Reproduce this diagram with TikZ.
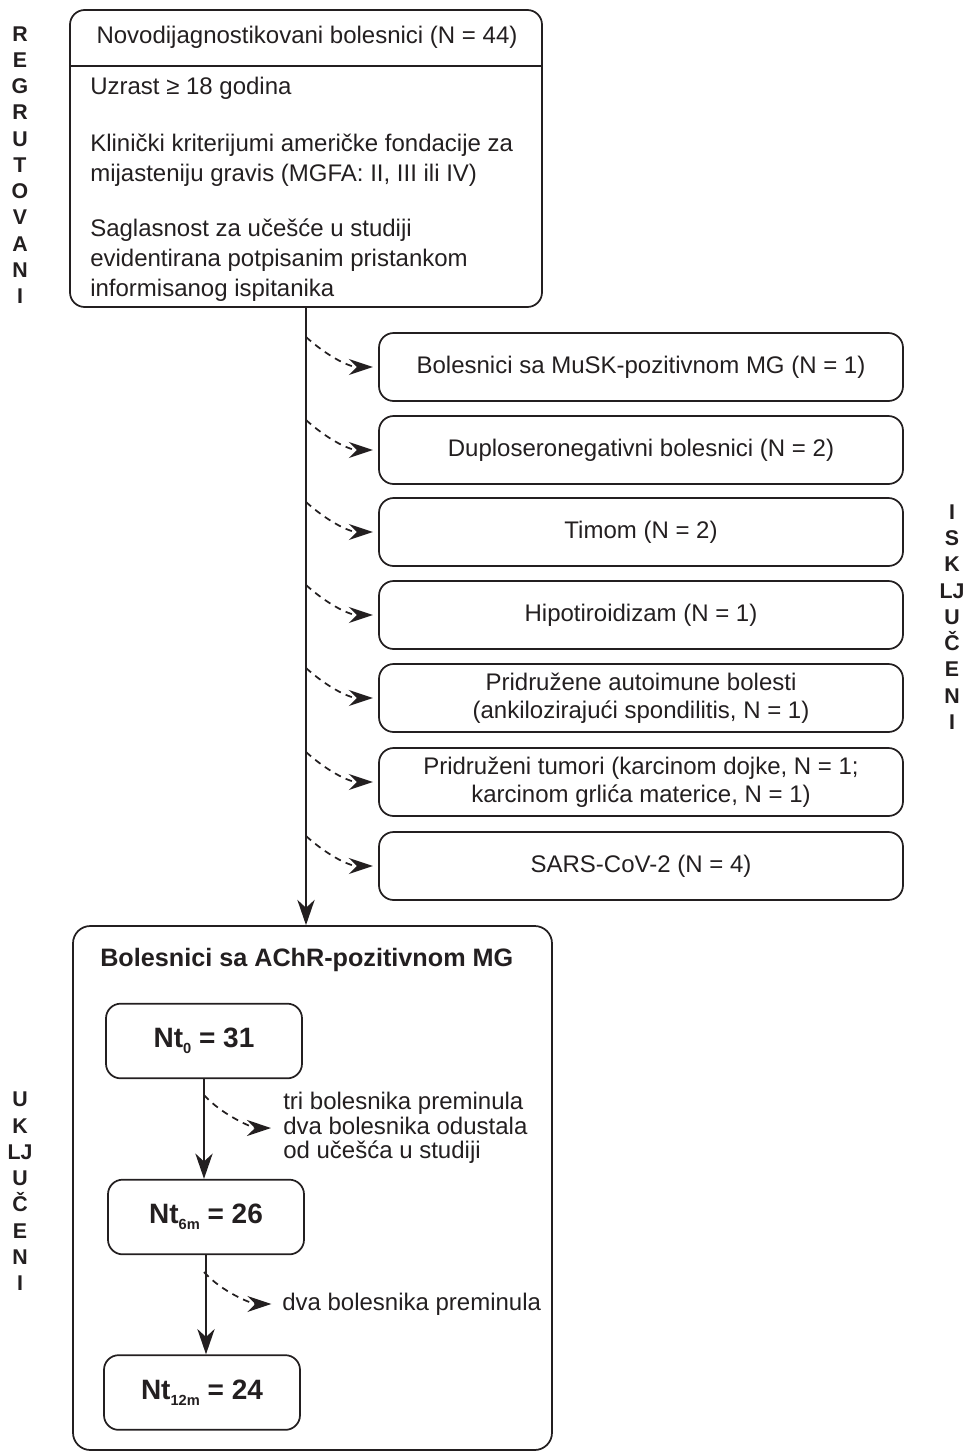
\documentclass[tikz,border=0pt]{standalone}
\usepackage{fontspec}
\setmainfont{Liberation Sans}
\usetikzlibrary{arrows.meta}
\definecolor{ink}{RGB}{35,31,32}
\newcommand\sbs[1]{\raisebox{-4.5pt}{\fontsize{11}{11}\selectfont #1}}
\begin{document}
\begin{tikzpicture}[x=0.75pt,y=-0.75pt,
  every node/.style={text=ink},
  lw/.style={line width=1.3pt, draw=ink},
  rbox/.style={lw, rounded corners=11pt, inner sep=0pt, align=center, font=\fontsize{18}{21}\selectfont},
  exbox/.style={rbox, minimum width=393pt, minimum height=51pt},
  ntbox/.style={rbox, minimum width=147pt, minimum height=56pt, font=\fontsize{21}{24}\bfseries\selectfont},
  side/.style={align=center, font=\fontsize{16}{19.7}\bfseries\selectfont, inner sep=0pt},
  body/.style={align=left, anchor=west, inner sep=0pt, font=\fontsize{18}{22.5}\selectfont},
  ann/.style={align=left, anchor=west, inner sep=0pt, font=\fontsize{18}{18.4}\selectfont},
  solidarr/.style={lw, -{Stealth[length=19pt,width=13pt,inset=6pt]}},
  dasharr/.style={lw, dash pattern=on 5pt off 4pt, -{Stealth[length=18pt,width=12pt,inset=6pt]}},
]
\useasboundingbox (0,0) rectangle (966,1453);

% top box
\node[lw, rounded corners=11pt, minimum width=354pt, minimum height=222.75pt, inner sep=0pt] (top) at (306,158.5) {};
\coordinate (dv) at (306,66);
\draw[lw] (top.west |- dv) -- (top.east |- dv);
\node[inner sep=0pt, font=\fontsize{18}{22}\selectfont] (title) at (307,37) {Novodijagnostikovani bolesnici (N = 44)};
\node[body] (c1) at (90,88) {Uzrast ≥ 18 godina};
\node[body] (c2) at (90,160) {Klinički kriterijumi američke fondacije za\\mijasteniju gravis (MGFA: II, III ili IV)};
\node[body] (c3) at (90,260.5) {Saglasnost za učešće u studiji\\evidentirana potpisanim pristankom\\informisanog ispitanika};

% exclusion boxes
\node[exbox] (e1) at (641,367) {Bolesnici sa MuSK-pozitivnom MG (N = 1)};
\node[exbox] (e2) at (641,450) {Duploseronegativni bolesnici (N = 2)};
\node[exbox] (e3) at (641,532) {Timom (N = 2)};
\node[exbox] (e4) at (641,615) {Hipotiroidizam (N = 1)};
\node[exbox] (e5) at (641,698) {Pridružene autoimune bolesti\\(ankilozirajući spondilitis, N = 1)};
\node[exbox] (e6) at (641,782) {Pridruženi tumori (karcinom dojke, N = 1;\\karcinom grlića materice, N = 1)};
\node[exbox] (e7) at (641,866) {SARS-CoV-2 (N = 4)};

% bottom box
\node[lw, rounded corners=13pt, minimum width=359.25pt, minimum height=393pt, inner sep=0pt] (bot) at (312.5,1188) {};
\node[anchor=west, inner sep=0pt, font=\fontsize{18.9}{22}\bfseries\selectfont] (bt) at (100,960) {Bolesnici sa AChR-pozitivnom MG};
\node[ntbox] (n0) at (204,1041) {Nt\sbs{0} = 31};
\node[ntbox] (n6) at (206,1217) {Nt\sbs{6m} = 26};
\node[ntbox] (n12) at (202,1392.5) {Nt\sbs{12m} = 24};
\node[ann] (a1) at (283,1128) {tri bolesnika preminula\\dva bolesnika odustala\\od učešća u studiji};
\node[ann] (a2) at (282,1304) {dva bolesnika preminula};

% main arrow
\draw[solidarr] (top.south) -- (top.south |- bot.north);
\foreach \i/\y in {1/337,2/420,3/502,4/585,5/668,6/752,7/836}{
  \coordinate (s\i) at (306,\y);
  \draw[dasharr, shorten >=4pt] (s\i) .. controls +(20,18) and +(-30,0) .. (e\i.west);
}

% inner arrows
\draw[solidarr] (n0.south) -- (n0.south |- n6.north);
\draw[solidarr] (n6.south) -- (n6.south |- n12.north);
\coordinate (s8) at (204,1095);
\coordinate (s9) at (204,1272);
\draw[dasharr, shorten >=9pt] (s8) .. controls +(18,20) and +(-30,0) .. (a1.west);
\draw[dasharr, shorten >=8pt] (s9) .. controls +(18,20) and +(-30,0) .. (a2.west);

% side labels
\node[side] (lr) at (20,165) {R\\E\\G\\R\\U\\T\\O\\V\\A\\N\\I};
\node[side] (li) at (952,617) {I\\S\\K\\LJ\\U\\Č\\E\\N\\I};
\node[side] (lu) at (20,1191.5) {U\\K\\LJ\\U\\Č\\E\\N\\I};
\end{tikzpicture}
\end{document}
